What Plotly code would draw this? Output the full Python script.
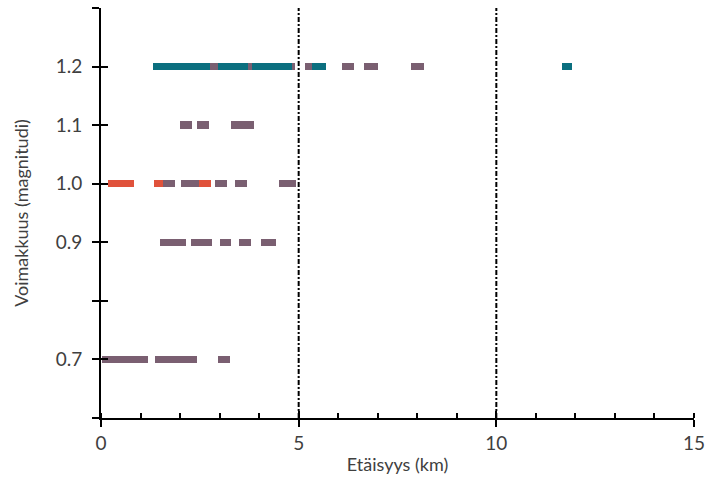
import plotly.graph_objects as go

# Earthquake observations: segments of distance (km) at each magnitude
teal_mag   = [1.2, 1.2, 1.2, 1.2, 1.2]
teal_start = [1.31, 2.96, 3.83, 5.33, 11.65]
teal_end   = [2.75, 3.73, 4.83, 5.69, 11.92]

mauve_mag   = [1.2, 1.2, 1.2, 1.2, 1.2, 1.2, 1.2,
               1.1, 1.1, 1.1,
               1.0, 1.0, 1.0, 1.0, 1.0,
               0.9, 0.9, 0.9, 0.9, 0.9,
               0.7, 0.7, 0.7]
mauve_start = [2.75, 3.73, 4.83, 5.16, 6.09, 6.64, 7.84,
               2.00, 2.43, 3.30,
               1.58, 2.02, 2.88, 3.40, 4.50,
               1.48, 2.27, 3.01, 3.50, 4.04,
               0.03, 1.37, 2.96]
mauve_end   = [2.96, 3.83, 4.91, 5.33, 6.41, 7.01, 8.16,
               2.30, 2.73, 3.86,
               1.88, 2.48, 3.19, 3.69, 4.94,
               2.16, 2.80, 3.30, 3.80, 4.42,
               1.20, 2.42, 3.27]

red_mag   = [1.0, 1.0, 1.0]
red_start = [0.18, 1.33, 2.48]
red_end   = [0.83, 1.58, 2.79]

ref_lines = [5, 10]
y_ticks = [0.6, 0.7, 0.8, 0.9, 1.0, 1.1, 1.2, 1.3]
y_labels = ["", "0.7", "", "0.9", "1.0", "1.1", "1.2", ""]
x_ticks = [0, 5, 10, 15]

TEAL = "#0b6f7f"
MAUVE = "#7a5f71"
RED = "#e0523b"
TXT = "#404040"
FONT = "Lato"

fig = go.Figure()

def add_series(mags, starts, ends, color, name):
    fig.add_trace(go.Bar(
        y=mags, base=starts, x=[e - s for s, e in zip(starts, ends)],
        orientation="h", width=0.0128, marker=dict(color=color, line=dict(width=0)),
        name=name, showlegend=False, hoverinfo="skip"))

add_series(teal_mag, teal_start, teal_end, TEAL, "A")
add_series(mauve_mag, mauve_start, mauve_end, MAUVE, "B")
add_series(red_mag, red_start, red_end, RED, "C")

for xv in ref_lines:
    fig.add_shape(type="line", xref="x", yref="y", x0=xv, x1=xv, y0=0.6, y1=1.3,
                  line=dict(color="black", width=2, dash="5px,2px,2px,2px"))

fig.update_layout(
    width=713, height=484,
    margin=dict(l=101, r=13, t=8, b=66),
    paper_bgcolor="white", plot_bgcolor="white",
    barmode="overlay", bargap=0,
    font=dict(family=FONT, size=19, color=TXT),
    xaxis=dict(range=[0, 15], tickvals=x_ticks, ticks="outside", ticklen=7, tickwidth=2,
               tickcolor="black", showline=True, linewidth=2, linecolor="black",
               showgrid=False, zeroline=False,
               minor=dict(dtick=1, ticks="inside", ticklen=5, tickwidth=1.5, tickcolor="black"),
               title=dict(text="Etäisyys (km)", font=dict(size=18, color=TXT), standoff=6)),
    xaxis2=dict(range=[0, 15], overlaying="x", side="bottom", tickvals=x_ticks,
                ticks="inside", ticklen=7, tickwidth=2, tickcolor="black",
                showticklabels=False, showline=False, showgrid=False, zeroline=False),
    yaxis=dict(range=[0.6, 1.3], tickvals=y_ticks, ticktext=y_labels, ticks="outside",
               ticklen=7, tickwidth=2, tickcolor="black", showline=True, linewidth=2,
               linecolor="black", showgrid=False, zeroline=False, ticklabelstandoff=6,
               title=dict(text="Voimakkuus (magnitudi)", font=dict(size=18, color=TXT), standoff=22)),
    yaxis2=dict(range=[0.6, 1.3], overlaying="y", side="left", tickvals=y_ticks,
                ticks="inside", ticklen=7, tickwidth=2, tickcolor="black",
                showticklabels=False, showline=False, showgrid=False, zeroline=False),
)
# invisible trace to activate the overlay axes
fig.add_trace(go.Scatter(x=[None], y=[None], xaxis="x2", yaxis="y2", showlegend=False,
                         hoverinfo="skip"))

fig.write_html("out.html")
